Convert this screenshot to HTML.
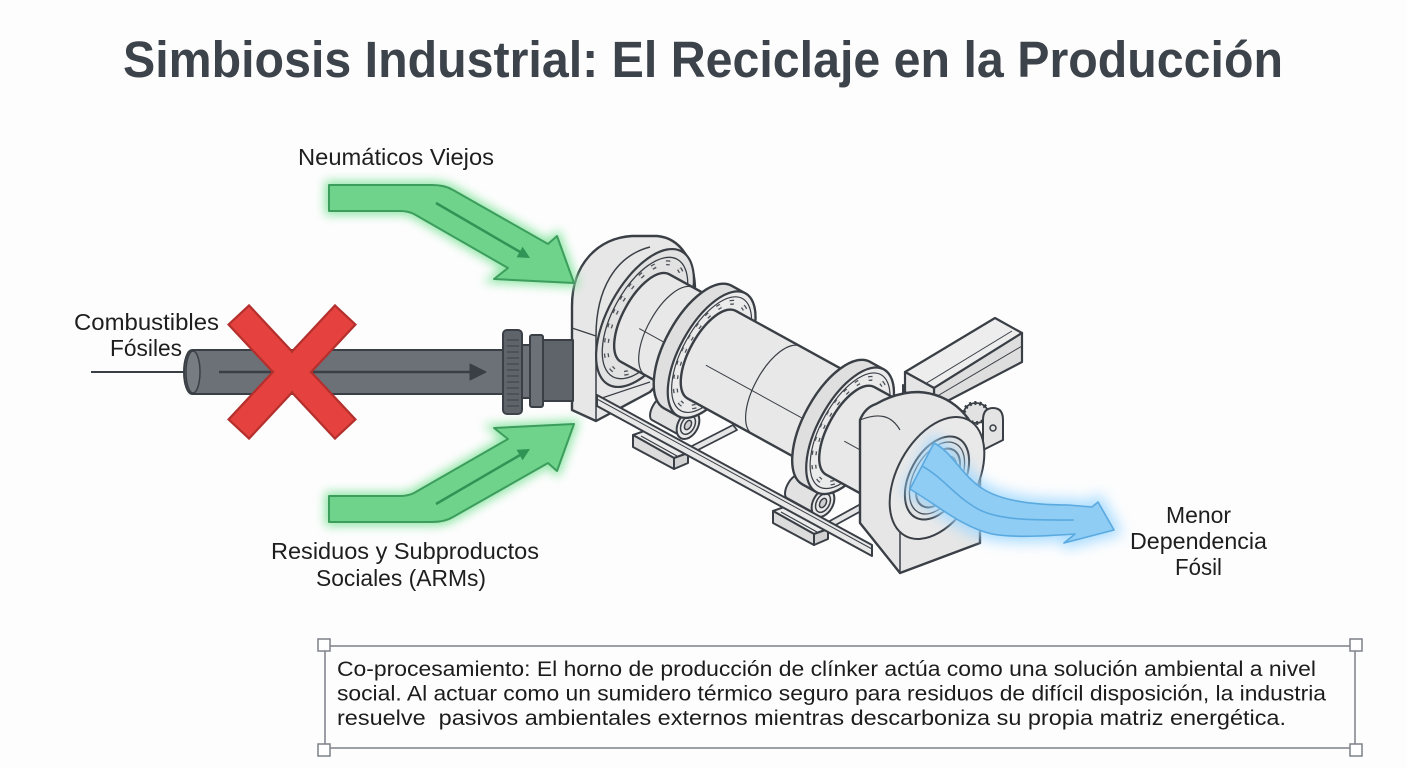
<!DOCTYPE html>
<html><head><meta charset="utf-8"><style>html,body{margin:0;padding:0;background:#fdfdfd}svg{display:block}</style></head>
<body>
<svg width="1407" height="768" viewBox="0 0 1407 768" xmlns="http://www.w3.org/2000/svg">
<defs>
<filter id="glow" x="-30%" y="-30%" width="160%" height="160%"><feGaussianBlur stdDeviation="5"/></filter>
<filter id="glowb" x="-30%" y="-30%" width="160%" height="160%"><feGaussianBlur stdDeviation="7"/></filter>
</defs>
<rect width="1407" height="768" fill="#fdfdfd"/>

<!-- Title -->
<text x="123" y="77" font-family="'Liberation Sans', Arial, sans-serif" font-weight="bold" font-size="51" fill="#3d434b" textLength="1160" lengthAdjust="spacingAndGlyphs">Simbiosis Industrial: El Reciclaje en la Producción</text>

<g stroke="#3a3f46" stroke-linejoin="round">
<!-- feet -->
<polygon points="633,435 647,430 688,453 674,458" fill="#ececec" stroke-width="2"/>
<polygon points="633,435 674,458 674,469 633,447" fill="#dcdcdc" stroke-width="2"/>
<polygon points="674,458 688,453 688,463 674,469" fill="#d2d2d2" stroke-width="2"/>
<line x1="641" y1="436" x2="677" y2="456" stroke-width="1.2"/>
<polygon points="773,511 787,506 828,529 814,534" fill="#ececec" stroke-width="2"/>
<polygon points="773,511 814,534 814,545 773,523" fill="#dcdcdc" stroke-width="2"/>
<polygon points="814,534 828,529 828,539 814,545" fill="#d2d2d2" stroke-width="2"/>
<line x1="781" y1="512" x2="817" y2="532" stroke-width="1.2"/>
<polygon points="690,447 733,425 737,430 694,452" fill="#e6e6e6" stroke-width="1.8"/>
<polygon points="828,522 868,500 872,505 832,527" fill="#e6e6e6" stroke-width="1.8"/>

<!-- rollers -->
<g transform="translate(688,425) rotate(28.8)">
<path d="M-34,-13 L0,-13 L0,13 L-34,13 A6,13 0 0 1 -34,-13Z" fill="#e2e2e2" stroke-width="2"/>
<ellipse cx="0" cy="0" rx="10" ry="15" fill="#e9e9e9" stroke-width="2"/>
<ellipse cx="0" cy="0" rx="6.5" ry="10" fill="none" stroke-width="1.5"/>
<ellipse cx="0" cy="0" rx="3" ry="5" fill="#cfcfcf" stroke-width="1.5"/>
</g>
<g transform="translate(823,503) rotate(28.8)">
<path d="M-34,-13 L0,-13 L0,13 L-34,13 A6,13 0 0 1 -34,-13Z" fill="#e2e2e2" stroke-width="2"/>
<ellipse cx="0" cy="0" rx="10" ry="15" fill="#e9e9e9" stroke-width="2"/>
<ellipse cx="0" cy="0" rx="6.5" ry="10" fill="none" stroke-width="1.5"/>
<ellipse cx="0" cy="0" rx="3" ry="5" fill="#cfcfcf" stroke-width="1.5"/>
</g>

<!-- front housing -->
<path d="M572,410 L572,306 C572,264 598,238 632,236 L657,236 C681,238 695,262 695,290 L695,345 L650,392 L596,421 Z" fill="#e7e7e7" stroke-width="2.4"/>
<path d="M596,421 L596,336 C596,290 615,256 650,247" fill="none" stroke-width="1.5"/>
<path d="M572,328 L596,336" fill="none" stroke-width="1.2"/>
<path d="M596,400 L650,382" fill="none" stroke-width="1.2"/>

<!-- kiln body group -->
<g transform="translate(645,318) rotate(28.8)">
<ellipse cx="0" cy="0" rx="37" ry="76" fill="#e2e2e2" stroke-width="2.2"/>
<ellipse cx="0" cy="0" rx="32" ry="67" fill="none" stroke-width="1.3"/>
<ellipse cx="0" cy="0" rx="29" ry="61" fill="none" stroke="#4a4f56" stroke-width="5" stroke-dasharray="4 11"/>
<ellipse cx="0" cy="0" rx="29" ry="61" fill="none" stroke="#e2e2e2" stroke-width="2.4" stroke-dasharray="4 11"/>

<!-- segment A -->
<path d="M0,-50 L62,-50 L62,50 L0,50 A22,50 0 0 1 0,-50Z" fill="#e8e8e8" stroke-width="2.4"/>
<path d="M28,-50 A22,50 0 0 0 28,50" fill="none" stroke-width="1.2"/>
<line x1="0" y1="12" x2="62" y2="12" stroke-width="1"/>

<!-- tire 1 -->
<path d="M60,-70 L76,-70 A32,70 0 0 1 76,70 L60,70 A32,70 0 0 1 60,-70Z" fill="#dfdfdf" stroke-width="2.4"/>
<ellipse cx="76" cy="0" rx="32" ry="70" fill="#ebebeb" stroke-width="2.2"/>
<ellipse cx="76" cy="0" rx="29" ry="64" fill="none" stroke-width="1.2"/>
<ellipse cx="76" cy="0" rx="26.5" ry="58" fill="none" stroke="#4a4f56" stroke-width="5" stroke-dasharray="4 10"/>
<ellipse cx="76" cy="0" rx="26.5" ry="58" fill="none" stroke="#ebebeb" stroke-width="2.4" stroke-dasharray="4 10"/>

<!-- segment B -->
<path d="M76,-50 L220,-50 L220,50 L76,50 A22,50 0 0 1 76,-50Z" fill="#e8e8e8" stroke-width="2.4"/>
<path d="M150,-50 A22,50 0 0 0 150,50" fill="none" stroke-width="1.2"/>
<line x1="76" y1="12" x2="220" y2="12" stroke-width="1"/>

<!-- tire 2 -->
<path d="M218,-70 L234,-70 A32,70 0 0 1 234,70 L218,70 A32,70 0 0 1 218,-70Z" fill="#dfdfdf" stroke-width="2.4"/>
<ellipse cx="234" cy="0" rx="32" ry="70" fill="#ebebeb" stroke-width="2.2"/>
<ellipse cx="234" cy="0" rx="29" ry="64" fill="none" stroke-width="1.2"/>
<ellipse cx="234" cy="0" rx="26.5" ry="58" fill="none" stroke="#4a4f56" stroke-width="5" stroke-dasharray="4 10"/>
<ellipse cx="234" cy="0" rx="26.5" ry="58" fill="none" stroke="#ebebeb" stroke-width="2.4" stroke-dasharray="4 10"/>

<!-- segment C -->
<path d="M234,-50 L335,-50 A22,50 0 0 1 335,50 L234,50 A22,50 0 0 1 234,-50Z" fill="#e8e8e8" stroke-width="2.4"/>
<path d="M290,-50 A22,50 0 0 0 290,50" fill="none" stroke-width="1.2"/>
<line x1="234" y1="12" x2="335" y2="12" stroke-width="1"/>
</g>

<!-- motor -->
<polygon points="903,385 935,403 935,421 903,403" fill="#e0e0e0" stroke-width="2"/>
<polygon points="905,372 995,318 1022,333 934,388" fill="#ededed" stroke-width="2.2"/>
<polygon points="934,388 1022,333 1022,362 934,408" fill="#dedede" stroke-width="2.2"/>
<polygon points="905,372 934,388 934,408 905,392" fill="#e5e5e5" stroke-width="2.2"/>
<line x1="925" y1="384" x2="1012" y2="331" stroke-width="1"/>
<line x1="934" y1="398" x2="1022" y2="346" stroke-width="1"/>
<ellipse cx="976" cy="413" rx="12" ry="10" fill="#e2e2e2" stroke-width="1.8"/>
<ellipse cx="976" cy="413" rx="12" ry="10" fill="none" stroke-width="4" stroke-dasharray="2 3"/>
<path d="M983,420 Q983,408 993,408 Q1003,408 1003,420 L1003,440 L983,450 Z" fill="#e4e4e4" stroke-width="2"/>
<circle cx="993" cy="428" r="3" fill="none" stroke-width="1.5"/>

<!-- rear housing -->
<path d="M860,523 L860,420 C864,410 870,406 876,404 C890,396 905,392 918,392 C950,393 978,418 980,452 L980,543 L900,573 Z" fill="#e6e6e6" stroke-width="2.4"/>
<path d="M860,420 C880,412 892,416 900,430" fill="none" stroke-width="1.2"/>
<line x1="900" y1="497" x2="900" y2="573" stroke-width="1.5"/>
<ellipse cx="937" cy="478" rx="40" ry="66" transform="rotate(28.8 937 478)" fill="#e9e9e9" stroke-width="2"/>
<ellipse cx="937" cy="478" rx="27" ry="45" transform="rotate(28.8 937 478)" fill="#e3e3e3" stroke-width="2"/>
<ellipse cx="937" cy="478" rx="23" ry="39" transform="rotate(28.8 937 478)" fill="none" stroke-width="1.3"/>
<ellipse cx="938" cy="478" rx="18" ry="32" transform="rotate(28.8 938 478)" fill="#d6d6d6" stroke-width="2"/>
<ellipse cx="941" cy="478" rx="12" ry="24" transform="rotate(28.8 941 478)" fill="#cfcfcf" stroke-width="1.2"/>

<!-- rail -->
<polygon points="597,395 872,545 872,556 597,406" fill="#e8e8e8" stroke-width="2"/>
<line x1="597" y1="399" x2="872" y2="549" stroke-width="1"/>
</g>

<!-- blue arrow -->
<path d="M934,443 C952,452 962,476 983,489 C1002,501 1035,505 1068,505 L1092,507 L1098,502 L1114,530 L1064,543 L1075,534 C1045,536 1015,538 992,534 C962,527 940,507 910,489 Z" fill="#9fd8ff" stroke="#9fd8ff" stroke-width="12" filter="url(#glowb)" opacity="0.9"/>
<path d="M934,443 C952,452 962,476 983,489 C1002,501 1035,505 1068,505 L1092,507 L1098,502 L1114,530 L1064,543 L1075,534 C1045,536 1015,538 992,534 C962,527 940,507 910,489 Z" fill="#8fcdf5" stroke="#5aa9df" stroke-width="1.6" stroke-linejoin="round"/>
<path d="M922,466 C944,478 958,500 982,511 C1005,521 1040,520 1074,520" fill="none" stroke="#5aa9df" stroke-width="1.6"/>

<!-- pipe -->
<g stroke="#3a3f46" stroke-linejoin="round">
<line x1="91" y1="372" x2="192" y2="372" stroke-width="2"/>
<path d="M192,350 L505,350 L505,394 L192,394 A8,22 0 0 1 192,350Z" fill="#6c7178" stroke-width="2"/>
<ellipse cx="193" cy="372" rx="7" ry="21" fill="#777c83" stroke-width="1.5"/>
<line x1="219" y1="372" x2="472" y2="372" stroke-width="2.5"/>
<polygon points="470,364 486,372 470,380" fill="#3a3f46" stroke-width="1"/>
<rect x="540" y="340" width="33" height="61" fill="#5f646b" stroke-width="2"/>
<rect x="520" y="345" width="14" height="53" fill="#6c7178" stroke-width="2"/>
<rect x="530" y="335" width="13" height="72" rx="2" fill="#6c7178" stroke-width="2"/>
<rect x="503" y="330" width="19" height="84" rx="4" fill="#5f646b" stroke-width="2"/>
<path d="M507,340 H519 M507,346 H519 M507,352 H519 M507,358 H519 M507,364 H519 M507,370 H519 M507,376 H519 M507,382 H519 M507,388 H519 M507,394 H519 M507,400 H519 M507,406 H519" stroke-width="1"/>
</g>

<!-- red X -->
<g transform="translate(292,372)">
<rect x="-78" y="-14" width="156" height="28" transform="rotate(47)" fill="#e5423f" stroke="#b3302d" stroke-width="2.2"/>
<rect x="-78" y="-14" width="156" height="28" transform="rotate(-47)" fill="#e5423f" stroke="#b3302d" stroke-width="2.2"/>
<rect x="-76.5" y="-12.5" width="153" height="25" transform="rotate(47)" fill="#e5423f"/>
<rect x="-76.5" y="-12.5" width="153" height="25" transform="rotate(-47)" fill="#e5423f"/>
</g>

<!-- green arrows -->
<path d="M329,185 L432,185 Q445,185 453,190 L548,244 L557,236 L574,283 L494,279 L508,268 L414,214 Q408,211 400,211 L329,211 Z" fill="#8fe6a6" stroke="#8fe6a6" stroke-width="8" filter="url(#glow)"/>
<path d="M329,522 L432,522 Q445,522 453,517 L548,463 L557,471 L574,424 L494,428 L508,439 L414,493 Q408,496 400,496 L329,496 Z" fill="#8fe6a6" stroke="#8fe6a6" stroke-width="8" filter="url(#glow)"/>
<path d="M329,185 L432,185 Q445,185 453,190 L548,244 L557,236 L574,283 L494,279 L508,268 L414,214 Q408,211 400,211 L329,211 Z" fill="#6fd38b" stroke="#3c9d5d" stroke-width="2" stroke-linejoin="round"/>
<path d="M329,522 L432,522 Q445,522 453,517 L548,463 L557,471 L574,424 L494,428 L508,439 L414,493 Q408,496 400,496 L329,496 Z" fill="#6fd38b" stroke="#3c9d5d" stroke-width="2" stroke-linejoin="round"/>
<line x1="436" y1="203" x2="521" y2="252.5" stroke="#2f9455" stroke-width="2.5"/>
<polygon points="530,258 516.6,257.2 522.6,246.8" fill="#2f9455"/>
<line x1="436" y1="504" x2="521" y2="454.5" stroke="#2f9455" stroke-width="2.5"/>
<polygon points="530,449 516.6,449.8 522.6,460.2" fill="#2f9455"/>

<!-- labels -->
<g font-family="'Liberation Sans', Arial, sans-serif" font-size="23" fill="#1e1e1e">
<text x="298" y="165" textLength="196" lengthAdjust="spacingAndGlyphs">Neumáticos Viejos</text>
<text x="74" y="330" textLength="145" lengthAdjust="spacingAndGlyphs">Combustibles</text>
<text x="110" y="356" textLength="72" lengthAdjust="spacingAndGlyphs">Fósiles</text>
<text x="271" y="559" textLength="268" lengthAdjust="spacingAndGlyphs">Residuos y Subproductos</text>
<text x="316" y="586" textLength="170" lengthAdjust="spacingAndGlyphs">Sociales (ARMs)</text>
<text x="1166" y="523" textLength="65" lengthAdjust="spacingAndGlyphs">Menor</text>
<text x="1130" y="549" textLength="137" lengthAdjust="spacingAndGlyphs">Dependencia</text>
<text x="1175" y="575" textLength="47" lengthAdjust="spacingAndGlyphs">Fósil</text>
</g>

<!-- text box -->
<rect x="325" y="646" width="1030" height="102" fill="none" stroke="#7d8289" stroke-width="1.5"/>
<g fill="#ffffff" stroke="#7d8289" stroke-width="1.5">
<rect x="318" y="639" width="12" height="12"/>
<rect x="1350" y="639" width="12" height="12"/>
<rect x="318" y="744" width="12" height="12"/>
<rect x="1350" y="744" width="12" height="12"/>
</g>
<g font-family="'Liberation Sans', Arial, sans-serif" font-size="21" fill="#1c1c1c">
<text x="337" y="676" textLength="979" lengthAdjust="spacingAndGlyphs">Co-procesamiento: El horno de producción de clínker actúa como una solución ambiental a nivel</text>
<text x="337" y="700.5" textLength="989" lengthAdjust="spacingAndGlyphs">social. Al actuar como un sumidero térmico seguro para residuos de difícil disposición, la industria</text>
<text x="337" y="725" textLength="949" lengthAdjust="spacingAndGlyphs">resuelve&#160; pasivos ambientales externos mientras descarboniza su propia matriz energética.</text>
</g>
</svg>
</body></html>
